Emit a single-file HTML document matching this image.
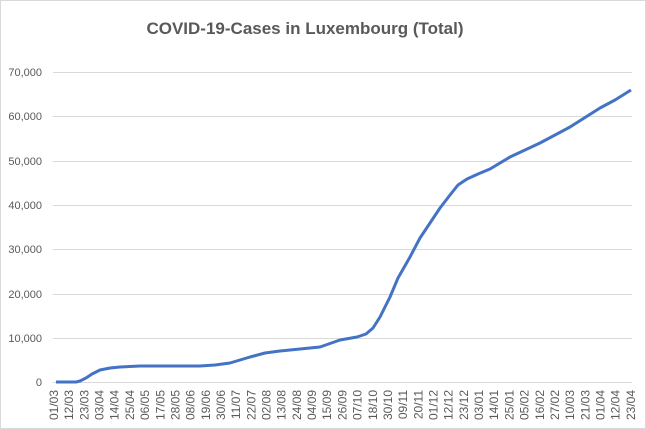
<!DOCTYPE html>
<html><head><meta charset="utf-8"><style>
html,body{margin:0;padding:0;background:#fff;}
</style></head><body>
<svg width="646" height="429" xmlns="http://www.w3.org/2000/svg" style="display:block">
<rect x="0.5" y="0.5" width="645" height="428" fill="#fff" stroke="#d9d9d9"/>
<text x="305" y="34" text-anchor="middle" font-family="Liberation Sans, sans-serif" font-size="17" font-weight="bold" fill="#595959">COVID-19-Cases in Luxembourg (Total)</text>
<g stroke="#d9d9d9" stroke-width="1">
<line x1="53" x2="632" y1="72.5" y2="72.5"/>
<line x1="53" x2="632" y1="116.5" y2="116.5"/>
<line x1="53" x2="632" y1="161.5" y2="161.5"/>
<line x1="53" x2="632" y1="205.5" y2="205.5"/>
<line x1="53" x2="632" y1="249.5" y2="249.5"/>
<line x1="53" x2="632" y1="294.5" y2="294.5"/>
<line x1="53" x2="632" y1="338.5" y2="338.5"/>
<line x1="53" x2="632" y1="382.5" y2="382.5"/>
</g>
<g font-family="Liberation Sans, sans-serif" font-size="11" fill="#595959" text-anchor="end">
<text x="42" y="76">70,000</text>
<text x="42" y="120">60,000</text>
<text x="42" y="165">50,000</text>
<text x="42" y="209">40,000</text>
<text x="42" y="253">30,000</text>
<text x="42" y="298">20,000</text>
<text x="42" y="342">10,000</text>
<text x="42" y="386">0</text>
</g>
<g font-family="Liberation Sans, sans-serif" font-size="12" fill="#595959" text-anchor="end">
<text transform="translate(58,390) rotate(-90)">01/03</text>
<text transform="translate(73.2,390) rotate(-90)">12/03</text>
<text transform="translate(88.4,390) rotate(-90)">23/03</text>
<text transform="translate(103.5,390) rotate(-90)">03/04</text>
<text transform="translate(118.7,390) rotate(-90)">14/04</text>
<text transform="translate(133.9,390) rotate(-90)">25/04</text>
<text transform="translate(149.1,390) rotate(-90)">06/05</text>
<text transform="translate(164.3,390) rotate(-90)">17/05</text>
<text transform="translate(179.4,390) rotate(-90)">28/05</text>
<text transform="translate(194.6,390) rotate(-90)">08/06</text>
<text transform="translate(209.8,390) rotate(-90)">19/06</text>
<text transform="translate(225,390) rotate(-90)">30/06</text>
<text transform="translate(240.2,390) rotate(-90)">11/07</text>
<text transform="translate(255.3,390) rotate(-90)">22/07</text>
<text transform="translate(270.5,390) rotate(-90)">02/08</text>
<text transform="translate(285.7,390) rotate(-90)">13/08</text>
<text transform="translate(300.9,390) rotate(-90)">24/08</text>
<text transform="translate(316.1,390) rotate(-90)">04/09</text>
<text transform="translate(331.2,390) rotate(-90)">15/09</text>
<text transform="translate(346.4,390) rotate(-90)">26/09</text>
<text transform="translate(361.6,390) rotate(-90)">07/10</text>
<text transform="translate(376.8,390) rotate(-90)">18/10</text>
<text transform="translate(392,390) rotate(-90)">30/10</text>
<text transform="translate(407.1,390) rotate(-90)">09/11</text>
<text transform="translate(422.3,390) rotate(-90)">20/11</text>
<text transform="translate(437.5,390) rotate(-90)">01/12</text>
<text transform="translate(452.7,390) rotate(-90)">12/12</text>
<text transform="translate(467.9,390) rotate(-90)">23/12</text>
<text transform="translate(483,390) rotate(-90)">03/01</text>
<text transform="translate(498.2,390) rotate(-90)">14/01</text>
<text transform="translate(513.4,390) rotate(-90)">25/01</text>
<text transform="translate(528.6,390) rotate(-90)">05/02</text>
<text transform="translate(543.8,390) rotate(-90)">16/02</text>
<text transform="translate(558.9,390) rotate(-90)">27/02</text>
<text transform="translate(574.1,390) rotate(-90)">10/03</text>
<text transform="translate(589.3,390) rotate(-90)">21/03</text>
<text transform="translate(604.5,390) rotate(-90)">01/04</text>
<text transform="translate(619.7,390) rotate(-90)">12/04</text>
<text transform="translate(634.8,390) rotate(-90)">23/04</text>
</g>
<polyline fill="none" stroke="#4472c4" stroke-width="3" stroke-linejoin="round" points="56,382 76,382 80,381 86,378 92,374 100,370 110,368 120,367 140,366 200,366 215,365 230,363 240,360 250,357 265,353 280,351 300,349 320,347 340,340 357,337 366,334 373,328 380,317 390,297 398,278 410,257 420,238 430,223 440,208 450,195 458,185 467,179 478,174 490,169 510,157 540,143 570,127 600,108 615,100 631,90"/>
</svg>
</body></html>
